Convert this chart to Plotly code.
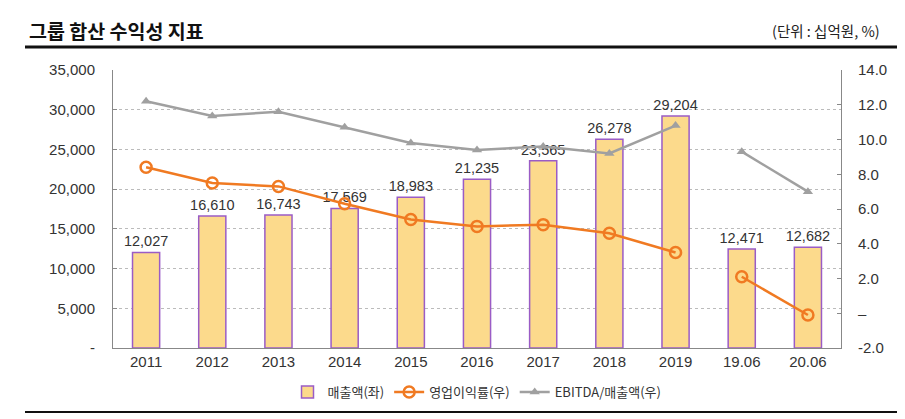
import plotly.graph_objects as go

categories = ["2011", "2012", "2013", "2014", "2015", "2016", "2017", "2018", "2019", "19.06", "20.06"]
sales = [12027, 16610, 16743, 17569, 18983, 21235, 23565, 26278, 29204, 12471, 12682]
op_margin = [8.4, 7.5, 7.3, 6.3, 5.4, 5.0, 5.1, 4.6, 3.5, None, None]
op_margin_half = [None, None, None, None, None, None, None, None, None, 2.1, -0.1]
ebitda_margin = [12.2, 11.35, 11.6, 10.7, 9.8, 9.4, 9.6, 9.2, 10.8, None, None]
ebitda_margin_half = [None, None, None, None, None, None, None, None, None, 9.3, 7.0]

left_ticks = [0, 5000, 10000, 15000, 20000, 25000, 30000, 35000]
left_ticktext = ["-", "5,000", "10,000", "15,000", "20,000", "25,000", "30,000", "35,000"]
right_ticks = [-2, 0, 2, 4, 6, 8, 10, 12, 14]
right_ticktext = ["-2.0", "–", "2.0", "4.0", "6.0", "8.0", "10.0", "12.0", "14.0"]

FONT = "Liberation Sans, Noto Sans CJK KR, sans-serif"
KFONT = "Noto Sans CJK KR, sans-serif"
ORANGE = "#F07A22"
GRAY = "#A0A0A0"

fig = go.Figure()
fig.add_trace(go.Bar(
    x=categories, y=sales, name="매출액(좌)",
    marker=dict(color="#FCDA8C", line=dict(color="#9A5CC6", width=1.5)),
    width=0.41,
    text=[f"{v:,}" for v in sales], textposition="outside", constraintext="none",
    textfont=dict(size=14.5, color="#333333", family=FONT),
    cliponaxis=False,
))
marker_o = dict(symbol="circle-open", size=11, color=ORANGE, line=dict(width=2.5, color=ORANGE))
marker_t = dict(symbol="triangle-up", size=9, color=GRAY)
fig.add_trace(go.Scatter(
    x=categories, y=op_margin, name="영업이익률(우)", yaxis="y2",
    mode="lines+markers", line=dict(color=ORANGE, width=2.5), marker=marker_o,
))
fig.add_trace(go.Scatter(
    x=categories, y=op_margin_half, name="영업이익률(우)", yaxis="y2", showlegend=False,
    mode="lines+markers", line=dict(color=ORANGE, width=2.5), marker=marker_o,
))
fig.add_trace(go.Scatter(
    x=categories, y=ebitda_margin, name="EBITDA/매출액(우)", yaxis="y2",
    mode="lines+markers", line=dict(color=GRAY, width=2.5), marker=marker_t,
))
fig.add_trace(go.Scatter(
    x=categories, y=ebitda_margin_half, name="EBITDA/매출액(우)", yaxis="y2", showlegend=False,
    mode="lines+markers", line=dict(color=GRAY, width=2.5), marker=marker_t,
))

# page has an 8px body margin; figure is offset by it
PW, PH = 728, 278
fig.update_layout(
    width=897, height=411,
    margin=dict(l=105, r=64, t=62, b=71, autoexpand=False),
    paper_bgcolor="white", plot_bgcolor="white",
    font=dict(family=FONT, size=15, color="#333333"),
    showlegend=True,
    legend=dict(orientation="h", x=0.5, xanchor="center", y=-(392-348)/PH, yanchor="middle",
                font=dict(family=KFONT, size=13, color="#333333"), traceorder="normal",
                bgcolor="rgba(0,0,0,0)"),
    xaxis=dict(type="category", range=[-0.5, 10.5], showline=True, linecolor="#888888", ticks="",
               automargin=False, tickfont=dict(size=15, color="#333333")),
    yaxis=dict(range=[0, 35000], tickvals=left_ticks, ticktext=left_ticktext,
               showgrid=True, gridcolor="#BBBBBB", griddash="dot", gridwidth=1,
               showline=True, linecolor="#888888", ticks="inside", ticklen=4, tickcolor="#888888",
               ticklabelstandoff=14,
               zeroline=False, automargin=False, tickfont=dict(size=15, color="#333333")),
    yaxis2=dict(range=[-2, 14], tickvals=right_ticks, ticktext=right_ticktext,
                overlaying="y", side="right", showgrid=False, zeroline=False,
                showline=True, linecolor="#888888", ticks="inside", ticklen=4, tickcolor="#888888",
                ticklabelstandoff=13,
                automargin=False, tickfont=dict(size=15, color="#333333")),
    bargap=0.59,
)

fig.add_annotation(text="<b>그룹 합산 수익성 지표</b>", xref="paper", yref="paper",
                   x=(27-113)/PW, xanchor="left", y=1 + (70-30)/PH, yanchor="middle",
                   showarrow=False, font=dict(family=KFONT, size=19.5, color="#111111"))
fig.add_annotation(text="(단위 : 십억원, %)", xref="paper", yref="paper",
                   x=(882-113)/PW, xanchor="right", y=1 + (70-31)/PH, yanchor="middle",
                   showarrow=False, font=dict(family=KFONT, size=14.5, color="#222222"))

fig.add_shape(type="line", xref="paper", yref="paper",
              x0=(25-113)/PW, x1=(902-113)/PW, y0=1 + (70-47)/PH, y1=1 + (70-47)/PH,
              line=dict(color="#111111", width=3))
fig.add_shape(type="line", xref="paper", yref="paper",
              x0=(25-113)/PW, x1=(902-113)/PW, y0=-(412-348)/PH, y1=-(412-348)/PH,
              line=dict(color="#111111", width=2))

fig.write_html("out.html")
